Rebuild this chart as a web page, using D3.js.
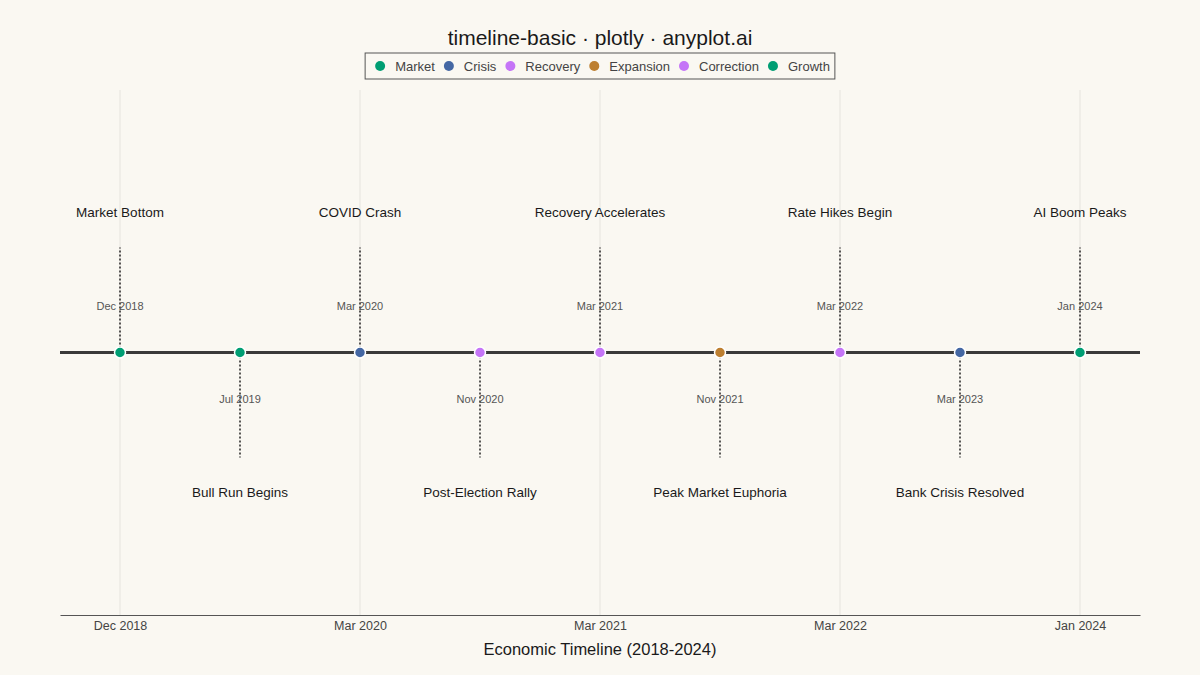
<!DOCTYPE html>
<html>
    <head>
        <meta charset="utf-8">
        <title>timeline-basic</title>
        <script src="https://d3js.org/d3.v7.min.js"></script>
        <style>
            html, body {
                margin: 0;
                padding: 0;
                background: #FAF8F2;
                font-family: "Liberation Sans", Arial, sans-serif;
            }
            svg {
                display: block;
            }
        </style>
    </head>
    <body>
        <svg id="chart" width="1200" height="675"></svg>
        <script>
            // chart data
            const dates = ['Dec 2018', 'Jul 2019', 'Mar 2020', 'Nov 2020', 'Mar 2021', 'Nov 2021', 'Mar 2022', 'Mar 2023', 'Jan 2024'];
            const events = ['Market Bottom', 'Bull Run Begins', 'COVID Crash', 'Post-Election Rally', 'Recovery Accelerates',
                'Peak Market Euphoria', 'Rate Hikes Begin', 'Bank Crisis Resolved', 'AI Boom Peaks'];
            const categories = ['Market', 'Growth', 'Crisis', 'Correction', 'Recovery', 'Expansion', 'Correction', 'Crisis', 'Growth'];
            const legendOrder = ['Market', 'Crisis', 'Recovery', 'Expansion', 'Correction', 'Growth'];
            const tickIndex = [0, 2, 4, 6, 8];

            const colorOf = {
                Market: '#009E73',
                Crisis: '#4467A3',
                Recovery: '#C575F7',
                Expansion: '#BD7F30',
                Correction: '#C575F7',
                Growth: '#009E73',
            };

            const W = 1200, H = 675;
            const margin = {left: 60, right: 60, top: 90, bottom: 60};
            const svg = d3.select('#chart');

            const x = d3.scaleLinear()
                .domain([-0.5, dates.length - 0.5])
                .range([margin.left, W - margin.right]);
            const y = d3.scaleLinear()
                .domain([-1.5, 1.5])
                .range([H - margin.bottom, margin.top]);

            const data = dates.map((d, i) => ({
                date: d,
                event: events[i],
                cat: categories[i],
                i,
                side: i % 2 === 0 ? 1 : -1,
            }));

            // grid lines
            svg.append('g')
                .selectAll('line')
                .data(tickIndex)
                .join('line')
                .attr('x1', d => x(d)).attr('x2', d => x(d))
                .attr('y1', margin.top).attr('y2', H - margin.bottom)
                .attr('stroke', '#E6E4DE')
                .attr('stroke-width', 1);

            // x axis
            const xAxis = d3.axisBottom(x)
                .tickValues(tickIndex)
                .tickFormat(i => dates[i])
                .tickSize(0)
                .tickPadding(6);
            const gAxis = svg.append('g')
                .attr('transform', `translate(0 ${H - margin.bottom})`)
                .call(xAxis);
            gAxis.select('.domain').attr('stroke', '#555').attr('stroke-width', 1);
            gAxis.selectAll('text')
                .attr('font-family', '"Liberation Sans", Arial, sans-serif')
                .attr('font-size', 12.5)
                .attr('fill', '#444');

            svg.append('text')
                .attr('x', (margin.left + W - margin.right) / 2)
                .attr('y', 655)
                .attr('text-anchor', 'middle')
                .attr('font-size', 16.5)
                .attr('fill', '#1a1a1a')
                .text('Economic Timeline (2018-2024)');

            // main timeline
            svg.append('line')
                .attr('x1', margin.left).attr('x2', W - margin.right)
                .attr('y1', y(0)).attr('y2', y(0))
                .attr('stroke', '#3a3a3a')
                .attr('stroke-width', 3);

            // stems
            svg.append('g')
                .selectAll('line')
                .data(data)
                .join('line')
                .attr('x1', d => x(d.i)).attr('x2', d => x(d.i))
                .attr('y1', y(0))
                .attr('y2', d => y(0.6 * d.side))
                .attr('stroke', '#222')
                .attr('stroke-width', 1.5)
                .attr('stroke-dasharray', '2 2');

            // date labels
            svg.append('g')
                .selectAll('text')
                .data(data)
                .join('text')
                .attr('x', d => x(d.i))
                .attr('y', d => y(0.265 * d.side))
                .attr('dy', '0.35em')
                .attr('text-anchor', 'middle')
                .attr('font-size', 11)
                .attr('fill', '#555')
                .text(d => d.date);

            // event labels
            svg.append('g')
                .selectAll('text')
                .data(data)
                .join('text')
                .attr('x', d => x(d.i))
                .attr('y', d => y(0.8 * d.side))
                .attr('dy', '0.35em')
                .attr('text-anchor', 'middle')
                .attr('font-size', 13.5)
                .attr('fill', '#1a1a1a')
                .text(d => d.event);

            // markers
            svg.append('g')
                .selectAll('circle')
                .data(data)
                .join('circle')
                .attr('cx', d => x(d.i))
                .attr('cy', y(0))
                .attr('r', 5.5)
                .attr('fill', d => colorOf[d.cat])
                .attr('stroke', '#FFFFFF')
                .attr('stroke-width', 1.5);

            // title
            svg.append('text')
                .attr('x', W / 2)
                .attr('y', 45)
                .attr('text-anchor', 'middle')
                .attr('font-size', 21)
                .attr('fill', '#1a1a1a')
                .text('timeline-basic · plotly · anyplot.ai');

            // legend
            const gLegend = svg.append('g');
            let lx = 0;
            legendOrder.forEach(name => {
                const item = gLegend.append('g').attr('transform', `translate(${lx} 0)`);
                item.append('circle')
                    .attr('cx', 0).attr('cy', 0).attr('r', 5)
                    .attr('fill', colorOf[name]);
                const t = item.append('text')
                    .attr('x', 15).attr('y', 0)
                    .attr('dy', '0.35em')
                    .attr('font-size', 13)
                    .attr('fill', '#444')
                    .text(name);
                lx += 15 + t.node().getComputedTextLength() + 14;
            });
            const legendW = lx - 14;
            const lx0 = W / 2 - (legendW + 20) / 2;
            gLegend.attr('transform', `translate(${lx0 + 15} 66)`);
            svg.insert('rect', 'g')
                .attr('x', lx0)
                .attr('y', 53)
                .attr('width', legendW + 20)
                .attr('height', 26)
                .attr('fill', 'none')
                .attr('stroke', '#555')
                .attr('stroke-width', 1);
        </script>
    </body>
</html>
